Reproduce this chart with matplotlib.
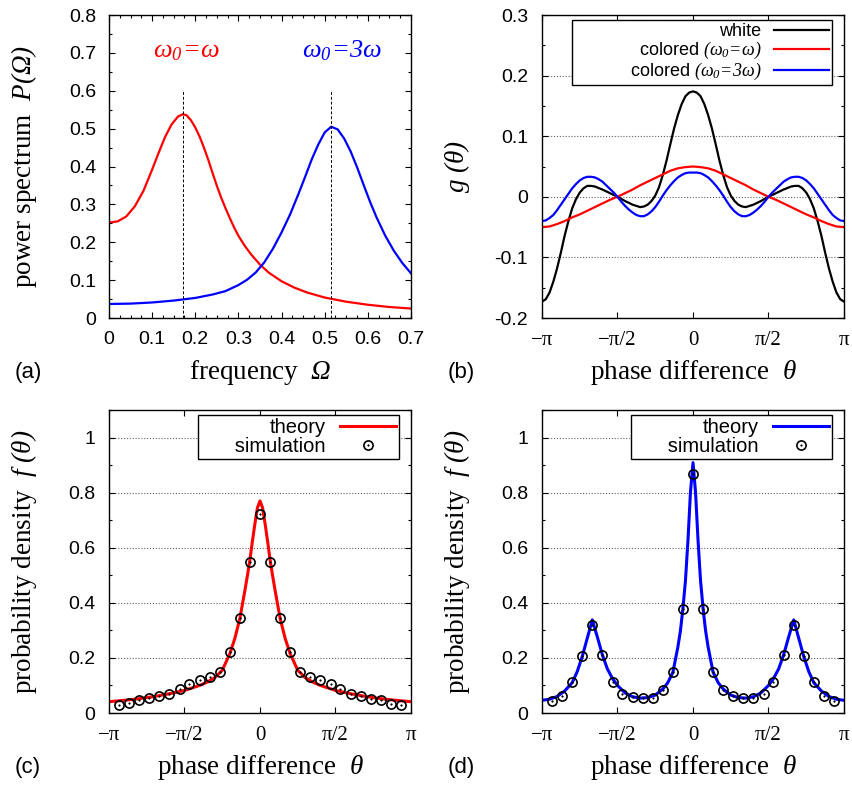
import numpy as np
import matplotlib
matplotlib.use('Agg')
import matplotlib.pyplot as plt
from matplotlib.ticker import MultipleLocator, FixedLocator

plt.rcParams['font.family'] = ['Liberation Sans', 'DejaVu Sans']
plt.rcParams['mathtext.fontset'] = 'custom'
plt.rcParams['mathtext.rm'] = 'Liberation Serif:italic'
plt.rcParams['mathtext.it'] = 'Liberation Serif:italic'
plt.rcParams['mathtext.bf'] = 'Liberation Serif:bold'

# ---------------- data ----------------
# (a) power spectrum P(Omega)
omega_red = [0, 0.02, 0.04, 0.06, 0.08, 0.1, 0.115, 0.13, 0.145, 0.16, 0.171, 0.18, 0.19, 0.2,
             0.21, 0.22, 0.23, 0.24, 0.25, 0.26, 0.27, 0.28, 0.29, 0.3, 0.315, 0.33, 0.35, 0.37,
             0.4, 0.43, 0.46, 0.5, 0.55, 0.6, 0.65, 0.7]
P_red = [0.252, 0.255, 0.268, 0.295, 0.336, 0.392, 0.436, 0.478, 0.511, 0.532, 0.538, 0.535,
         0.522, 0.503, 0.479, 0.45, 0.418, 0.383, 0.349, 0.318, 0.29, 0.264, 0.239, 0.217, 0.19,
         0.167, 0.141, 0.12, 0.097, 0.08, 0.067, 0.054, 0.043, 0.035, 0.029, 0.025]
omega_blue = [0, 0.05, 0.1, 0.15, 0.2, 0.24, 0.27, 0.3, 0.32, 0.34, 0.36, 0.38, 0.4, 0.42, 0.44,
              0.455, 0.47, 0.485, 0.5, 0.515, 0.53, 0.545, 0.56, 0.575, 0.59, 0.605, 0.62, 0.64,
              0.66, 0.68, 0.7]
P_blue = [0.037, 0.038, 0.041, 0.046, 0.053, 0.062, 0.071, 0.087, 0.101, 0.12, 0.147, 0.183,
          0.226, 0.274, 0.33, 0.374, 0.419, 0.458, 0.49, 0.505, 0.498, 0.474, 0.44, 0.398, 0.352,
          0.307, 0.266, 0.218, 0.178, 0.145, 0.118]
omega_peaks = [0.171, 0.515]
peak_line_top = 0.6
annot_a = [r'$\omega_0\!=\!\omega$', r'$\omega_0\!=\!3\omega$']

# (b) g(theta); theta in units of pi
t_white = [-1, -0.975, -0.95, -0.925, -0.9, -0.875, -0.85, -0.825, -0.8, -0.775, -0.75, -0.725,
           -0.7, -0.675, -0.65, -0.6, -0.55, -0.5, -0.45, -0.4, -0.35, -0.325, -0.3, -0.275,
           -0.25, -0.225, -0.2, -0.175, -0.15, -0.125, -0.1, -0.075, -0.05, -0.025, 0,
           0.025, 0.05, 0.075, 0.1, 0.125, 0.15, 0.175, 0.2, 0.225, 0.25, 0.275, 0.3, 0.325,
           0.35, 0.4, 0.45, 0.5, 0.55, 0.6, 0.65, 0.675, 0.7, 0.725, 0.75, 0.775, 0.8, 0.825,
           0.85, 0.875, 0.9, 0.925, 0.95, 0.975, 1]
g_white = [-0.173, -0.169, -0.158, -0.140, -0.118, -0.092, -0.064, -0.040, -0.019, -0.004,
           0.007, 0.014, 0.018, 0.018, 0.017, 0.012, 0.006, 0.0, -0.007, -0.013, -0.017,
           -0.016, -0.013, -0.007, 0.002, 0.016, 0.036, 0.06, 0.087, 0.113, 0.135, 0.153,
           0.166, 0.172, 0.174,
           0.172, 0.166, 0.153, 0.135, 0.113, 0.087, 0.06, 0.036, 0.016, 0.002, -0.007,
           -0.013, -0.016, -0.017, -0.013, -0.007, 0.0, 0.006, 0.012, 0.017, 0.018, 0.018,
           0.014, 0.007, -0.004, -0.019, -0.040, -0.064, -0.092, -0.118, -0.140, -0.158,
           -0.169, -0.173]
t_col1 = [-1, -0.95, -0.9, -0.85, -0.8, -0.75, -0.7, -0.65, -0.6, -0.55, -0.5, -0.45, -0.4,
          -0.35, -0.3, -0.25, -0.2, -0.15, -0.1, -0.05, 0, 0.05, 0.1, 0.15, 0.2, 0.25, 0.3,
          0.35, 0.4, 0.45, 0.5, 0.55, 0.6, 0.65, 0.7, 0.75, 0.8, 0.85, 0.9, 0.95, 1]
g_col1 = [-0.050, -0.049, -0.045, -0.040, -0.034, -0.029, -0.023, -0.017, -0.011, -0.005, 0.0,
          0.006, 0.012, 0.019, 0.025, 0.031, 0.037, 0.043, 0.047, 0.049, 0.050,
          0.049, 0.047, 0.043, 0.037, 0.031, 0.025, 0.019, 0.012, 0.006, 0.0, -0.005, -0.011,
          -0.017, -0.023, -0.029, -0.034, -0.040, -0.045, -0.049, -0.050]
t_col3 = [-1, -0.975, -0.95, -0.925, -0.9, -0.875, -0.85, -0.825, -0.8, -0.775, -0.75, -0.725,
          -0.7, -0.675, -0.65, -0.625, -0.6, -0.575, -0.55, -0.525, -0.5, -0.475, -0.45,
          -0.425, -0.4, -0.375, -0.35, -0.325, -0.3, -0.275, -0.25, -0.225, -0.2,
          -0.175, -0.15, -0.125, -0.1, -0.075, -0.05, -0.025, 0,
          0.025, 0.05, 0.075, 0.1, 0.125, 0.15, 0.175, 0.2, 0.225, 0.25, 0.275, 0.3,
          0.325, 0.35, 0.375, 0.4, 0.425, 0.45, 0.475, 0.5, 0.525, 0.55, 0.575, 0.6, 0.625,
          0.65, 0.675, 0.7, 0.725, 0.75, 0.775, 0.8, 0.825, 0.85, 0.875, 0.9, 0.925, 0.95,
          0.975, 1]
g_col3 = [-0.040, -0.039, -0.035, -0.030, -0.022, -0.013, -0.004, 0.005, 0.014, 0.021, 0.027,
          0.031, 0.033, 0.033, 0.032, 0.029, 0.025, 0.019, 0.013, 0.007, 0.0, -0.008, -0.015,
          -0.021, -0.026, -0.030, -0.032, -0.032, -0.029, -0.024, -0.017, -0.008, 0.002,
          0.011, 0.019, 0.026, 0.032, 0.036, 0.039, 0.040, 0.040,
          0.040, 0.039, 0.036, 0.032, 0.026, 0.019, 0.011, 0.002, -0.008, -0.017,
          -0.024, -0.029, -0.032, -0.032, -0.030, -0.026, -0.021, -0.015, -0.008, 0.0, 0.007,
          0.013, 0.019, 0.025, 0.029, 0.032, 0.033, 0.033, 0.031, 0.027, 0.021, 0.014, 0.005,
          -0.004, -0.013, -0.022, -0.030, -0.035, -0.039, -0.040]
labels_b = ['white', r'colored $(\omega_0\!=\!\omega)$',
            '           colored ' + r'$(\omega_0\!=\!3\omega)$']

# (c), (d) probability density f(theta); theta in units of pi
t_theory_c = [-1, -0.9, -0.8, -0.7, -0.6, -0.5, -0.4, -0.35, -0.3, -0.25, -0.2, -0.167, -0.133,
              -0.1, -0.083, -0.067, -0.05, -0.033, -0.017, 0,
              0.017, 0.033, 0.05, 0.067, 0.083, 0.1, 0.133, 0.167, 0.2, 0.25, 0.3, 0.35, 0.4,
              0.5, 0.6, 0.7, 0.8, 0.9, 1]
f_theory_c = [0.041, 0.046, 0.052, 0.06, 0.07, 0.082, 0.1, 0.112, 0.128, 0.155, 0.215, 0.27,
              0.344, 0.445, 0.5, 0.555, 0.625, 0.69, 0.745, 0.77,
              0.745, 0.69, 0.625, 0.555, 0.5, 0.445, 0.344, 0.27, 0.215, 0.155, 0.128, 0.112,
              0.1, 0.082, 0.07, 0.06, 0.052, 0.046, 0.041]
t_theory_d = [-1, -0.95, -0.9, -0.85, -0.8, -0.767, -0.733, -0.7, -0.667, -0.633, -0.6, -0.567,
              -0.533, -0.5, -0.45, -0.4, -0.35, -0.3, -0.25, -0.2, -0.167, -0.133, -0.1, -0.083,
              -0.067, -0.05, -0.033, -0.017, 0,
              0.017, 0.033, 0.05, 0.067, 0.083, 0.1, 0.133, 0.167, 0.2, 0.25, 0.3, 0.35, 0.4,
              0.45, 0.5, 0.533, 0.567, 0.6, 0.633, 0.667, 0.7, 0.733, 0.767, 0.8, 0.85, 0.9,
              0.95, 1]
f_theory_d = [0.046, 0.05, 0.06, 0.08, 0.11, 0.15, 0.206, 0.272, 0.338, 0.275, 0.211, 0.16,
              0.125, 0.1, 0.073, 0.059, 0.054, 0.056, 0.065, 0.087, 0.11, 0.148, 0.24, 0.3,
              0.378, 0.48, 0.63, 0.8, 0.909,
              0.8, 0.63, 0.48, 0.378, 0.3, 0.24, 0.148, 0.11, 0.087, 0.065, 0.056, 0.054, 0.059,
              0.073, 0.1, 0.125, 0.16, 0.211, 0.275, 0.338, 0.272, 0.206, 0.15, 0.11, 0.08, 0.06,
              0.05, 0.046]
t_sim = [-0.933, -0.867, -0.8, -0.733, -0.667, -0.6, -0.533, -0.467, -0.4, -0.333, -0.267,
         -0.2, -0.133, -0.067, 0, 0.067, 0.133, 0.2, 0.267, 0.333, 0.4, 0.467, 0.533, 0.6,
         0.667, 0.733, 0.8, 0.867, 0.933]
f_sim_c = [0.030, 0.036, 0.048, 0.055, 0.062, 0.070, 0.086, 0.107, 0.121, 0.130, 0.150, 0.221,
           0.344, 0.548, 0.724, 0.548, 0.344, 0.221, 0.148, 0.130, 0.120, 0.105, 0.086, 0.069,
           0.062, 0.051, 0.046, 0.033, 0.030]
f_sim_d = [0.045, 0.063, 0.112, 0.206, 0.318, 0.211, 0.114, 0.069, 0.059, 0.055, 0.056, 0.084,
           0.148, 0.378, 0.869, 0.378, 0.148, 0.084, 0.061, 0.056, 0.056, 0.069, 0.114, 0.211,
           0.318, 0.206, 0.112, 0.063, 0.045]
labels_cd = ['theory', '      simulation']

pi_ticks = [-1, -0.5, 0, 0.5, 1]
pi_labels = ['\u2212\u03c0', '\u2212\u03c0/2', '0', '\u03c0/2', '\u03c0']

# ---------------- figure ----------------
W, H = 853, 787
fig = plt.figure(figsize=(W / 100, H / 100), dpi=100)
AX_W, AX_H = 302, 303


def box(x0, y0):
    return [x0 / W, 1 - (y0 + AX_H) / H, AX_W / W, AX_H / H]


axa = fig.add_axes(box(109, 15))
axb = fig.add_axes(box(542, 15))
axc = fig.add_axes(box(109, 410))
axd = fig.add_axes(box(542, 410))

SERIF = 'Liberation Serif'
TICK_FS = 14
XLABEL_FS = 19.5
YLABEL_FS = 19.5


def style(ax, ypad):
    ax.tick_params(which='both', direction='in', top=True, right=True, labelsize=TICK_FS,
                   width=0.8, color='black')
    ax.tick_params(which='major', length=4.5)
    ax.tick_params(which='minor', length=2.5)
    ax.tick_params(axis='y', pad=ypad)
    ax.tick_params(axis='x', pad=9)
    for s in ax.spines.values():
        s.set_linewidth(1.0)
    ax.set_axisbelow(True)


def pi_axis(ax):
    ax.set_xlim(-np.pi, np.pi)
    ax.xaxis.set_major_locator(FixedLocator([v * np.pi for v in pi_ticks]))
    ax.set_xticklabels(pi_labels, fontfamily=SERIF, fontsize=15)
    ax.set_xlabel(r'phase difference  $\theta$', fontfamily=SERIF, fontsize=XLABEL_FS)


def grid(ax):
    ax.yaxis.grid(True, which='major', linestyle=(0, (1, 1.6)), color='#606060', linewidth=0.8)


def legend(ax, handles, labels, anchor, fs, hl):
    lg = ax.legend(handles, labels, loc='upper right', bbox_to_anchor=anchor,
                   markerfirst=False, fontsize=fs, frameon=True, fancybox=False,
                   framealpha=1, edgecolor='black', handlelength=hl, handletextpad=0.7,
                   labelspacing=0.0, borderpad=0.15, borderaxespad=0.0)
    lg.get_frame().set_linewidth(1.0)
    return lg


# ---- (a)
style(axa, 9)
axa.plot(omega_red, P_red, color='#ff0000', lw=1.6)
axa.plot(omega_blue, P_blue, color='#0000ff', lw=1.6)
axa.vlines(omega_peaks, 0, peak_line_top, colors='black', linestyles=(0, (3, 2)), lw=0.7)
axa.set_xlim(0, 0.7)
axa.set_ylim(0, 0.8)
axa.xaxis.set_major_locator(FixedLocator([0, 0.1, 0.2, 0.3, 0.4, 0.5, 0.6, 0.7]))
axa.yaxis.set_major_locator(FixedLocator([0, 0.1, 0.2, 0.3, 0.4, 0.5, 0.6, 0.7, 0.8]))
axa.set_xticklabels(['0', '0.1', '0.2', '0.3', '0.4', '0.5', '0.6', '0.7'])
axa.set_yticklabels(['0', '0.1', '0.2', '0.3', '0.4', '0.5', '0.6', '0.7', '0.8'])
axa.xaxis.set_minor_locator(MultipleLocator(0.025))
axa.yaxis.set_minor_locator(MultipleLocator(0.05))
axa.set_xlabel(r'frequency  $\Omega$', fontfamily=SERIF, fontsize=XLABEL_FS)
axa.set_ylabel(r'power spectrum  $P(\Omega)$', fontfamily=SERIF, fontsize=YLABEL_FS)
axa.text(0.18, 0.705, annot_a[0], color='#ff0000', fontsize=19, ha='center', va='center')
axa.text(0.54, 0.705, annot_a[1], color='#0000ff', fontsize=19, ha='center', va='center')

# ---- (b)
style(axb, 10)
grid(axb)
lw_b = 1.6
hb = []
hb += axb.plot(np.array(t_white) * np.pi, g_white, color='black', lw=lw_b)
hb += axb.plot(np.array(t_col1) * np.pi, g_col1, color='#ff0000', lw=lw_b)
hb += axb.plot(np.array(t_col3) * np.pi, g_col3, color='#0000ff', lw=lw_b)
pi_axis(axb)
axb.set_ylim(-0.2, 0.3)
axb.yaxis.set_major_locator(FixedLocator([-0.2, -0.1, 0, 0.1, 0.2, 0.3]))
axb.set_yticklabels(['-0.2', '-0.1', '0', '0.1', '0.2', '0.3'])
axb.yaxis.set_minor_locator(MultipleLocator(0.05))
axb.set_ylabel(r'$g\ (\theta)$', fontfamily=SERIF, fontsize=YLABEL_FS)
legend(axb, hb, labels_b, (0.960, 0.982), 13, 3.05)

# ---- (c) and (d)
for ax, tt, ff, col, fs in [(axc, t_theory_c, f_theory_c, '#ff0000', f_sim_c),
                            (axd, t_theory_d, f_theory_d, '#0000ff', f_sim_d)]:
    style(ax, 10)
    grid(ax)
    ln, = ax.plot(np.array(tt) * np.pi, ff, color=col, lw=2.2, zorder=2)
    c1, = ax.plot(np.array(t_sim) * np.pi, fs, 'o', mfc='none', mec='black', ms=6.6, mew=1.2,
                  zorder=3)
    c2, = ax.plot(np.array(t_sim) * np.pi, fs, 'o', mfc='black', mec='black', ms=1.2, mew=0.3,
                  zorder=3)
    pi_axis(ax)
    ax.set_ylim(0, 1.1)
    ax.yaxis.set_major_locator(FixedLocator([0, 0.2, 0.4, 0.6, 0.8, 1.0]))
    ax.set_yticklabels(['0', '0.2', '0.4', '0.6', '0.8', '1'])
    ax.yaxis.set_minor_locator(MultipleLocator(0.1))
    ax.set_ylabel(r'probability density  $f\ (\theta)$', fontfamily=SERIF, fontsize=YLABEL_FS)
    legend(ax, [ln, (c1, c2)], labels_cd, (0.960, 0.983), 14.5, 2.8)

# panel letters
for ax, letter in [(axa, '(a)'), (axb, '(b)'), (axc, '(c)'), (axd, '(d)')]:
    pos = ax.get_position()
    fig.text(pos.x0 - 81 / W, pos.y0 - 54 / H, letter, fontsize=16, ha='center', va='center')

for ax in [axa, axb, axc, axd]:
    ax.yaxis.set_label_coords(-70 / AX_W, 0.5)
    ax.xaxis.set_label_coords(0.5, -40 / AX_H)

fig.savefig('out.png', dpi=100)
